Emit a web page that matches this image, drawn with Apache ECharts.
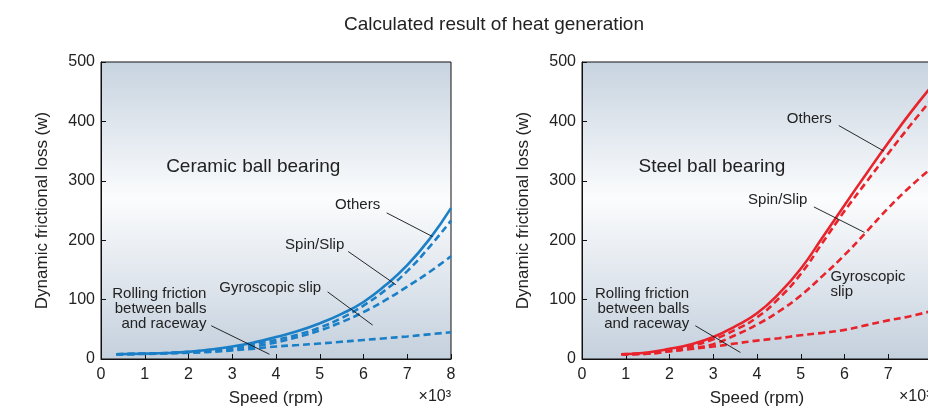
<!DOCTYPE html>
<html>
<head>
<meta charset="utf-8">
<script src="https://cdn.jsdelivr.net/npm/echarts@6/dist/echarts.min.js"></script>
<style>
    html, body { margin: 0; padding: 0; background: #fff; }
    #main { width: 928px; height: 409px; }
</style>
</head>
<body>
<div id="main"></div>
<script>
// speed in x10^3 rpm, loss in W
var ceramicSpeed = [0.35, 1, 1.5, 2, 2.5, 3, 3.5, 4, 4.5, 5, 5.5, 6, 6.5, 7, 7.5, 8];
var ceramicOthers = [8, 9, 10, 12, 16, 21, 28, 37, 47, 60, 76, 96, 124, 158, 201, 254];
var ceramicSpin = [8, 9, 10, 12, 15, 19, 25, 32, 41, 53, 69, 90, 116, 148, 188, 233];
var ceramicGyro = [8, 9, 10, 11, 13, 16, 21, 28, 37, 48, 62, 79, 99, 122, 146, 173];
var ceramicRolling = [8, 8.5, 9.5, 10.5, 12, 14.5, 17.5, 21, 23.5, 26, 29, 32, 35, 38, 41.5, 45];

var steelSpeed = [0.9, 1.5, 2, 2.5, 3, 3.5, 4, 4.5, 5, 5.5, 6, 6.5, 7, 7.5, 8];
var steelOthers = [8, 11, 17, 25, 37, 55, 77, 110, 152, 205, 259, 312, 364, 414, 460];
var steelSpin = [8, 10, 15, 22, 33, 49, 70, 102, 143, 196, 249, 298, 346, 393, 438];
var steelGyro = [8, 9, 13, 18, 25, 40, 58, 80, 107, 140, 175, 214, 254, 290, 322];
var steelRolling = [8, 9, 13, 17, 21, 26, 31, 35, 40, 44, 49, 57, 65, 72, 81];

var speedTicks = [0, 1, 2, 3, 4, 5, 6, 7, 8];
var lossTicks = [0, 100, 200, 300, 400, 500];

var FONT = '"Liberation Sans", Arial, sans-serif';
var TXT = '#222';

function pairs(xs, ys) {
    var out = [];
    for (var i = 0; i < xs.length; i++) {
        out.push([xs[i], ys[i]]);
    }
    return out;
}

function curve(idx, xs, ys, color, dashed) {
    return {
        type: 'line',
        xAxisIndex: idx,
        yAxisIndex: idx,
        data: pairs(xs, ys),
        smooth: true,
        showSymbol: false,
        silent: true,
        clip: false,
        lineStyle: {
            color: color,
            width: 2.6,
            type: dashed ? [7, 4] : 'solid'
        }
    };
}

// leader lines + labels, placed in data coordinates
function notes(idx, leaders, labels) {
    var lines = [];
    for (var i = 0; i < leaders.length; i++) {
        var l = leaders[i];
        lines.push([{coord: [l[0], l[1]]}, {coord: [l[2], l[3]]}]);
    }
    var points = [];
    for (var j = 0; j < labels.length; j++) {
        var t = labels[j];
        points.push({
            coord: [t.x, t.y],
            label: {
                show: true,
                position: 'inside',
                formatter: t.text,
                align: t.align || 'right',
                verticalAlign: 'middle',
                fontSize: t.size || 15,
                lineHeight: 15,
                fontFamily: FONT,
                color: TXT
            }
        });
    }
    return {
        type: 'line',
        xAxisIndex: idx,
        yAxisIndex: idx,
        data: [],
        silent: true,
        markLine: {
            silent: true,
            symbol: 'none',
            animation: false,
            label: {show: false},
            lineStyle: {color: '#111', width: 0.9, type: 'solid'},
            data: lines
        },
        markPoint: {
            silent: true,
            symbol: 'circle',
            symbolSize: 0,
            animation: false,
            data: points
        }
    };
}

function xAxisCfg(idx) {
    return {
        gridIndex: idx,
        type: 'value',
        min: speedTicks[0],
        max: speedTicks[speedTicks.length - 1],
        interval: 1,
        name: 'Speed (rpm)',
        nameLocation: 'middle',
        nameGap: 31,
        nameTextStyle: {fontSize: 17, fontFamily: FONT, color: TXT},
        axisLine: {lineStyle: {color: '#111', width: 1}},
        axisTick: {inside: true, length: 5, lineStyle: {color: '#111'}},
        axisLabel: {fontSize: 16, fontFamily: FONT, color: TXT, margin: 8},
        splitLine: {show: false}
    };
}

function yAxisCfg(idx) {
    return {
        gridIndex: idx,
        type: 'value',
        min: lossTicks[0],
        max: lossTicks[lossTicks.length - 1],
        interval: 100,
        name: 'Dynamic frictional loss (w)',
        nameLocation: 'middle',
        nameGap: 50,
        nameTextStyle: {fontSize: 17, fontFamily: FONT, color: TXT},
        axisLine: {show: true, lineStyle: {color: '#111', width: 1}},
        axisTick: {show: true, inside: true, length: 5, lineStyle: {color: '#111'}},
        axisLabel: {fontSize: 16, fontFamily: FONT, color: TXT, margin: 6},
        splitLine: {show: false}
    };
}

var plotBg = {
    type: 'linear', x: 0, y: 0, x2: 0, y2: 1,
    colorStops: [
        {offset: 0, color: '#c7d3e0'},
        {offset: 0.46, color: '#fbfcfd'},
        {offset: 1, color: '#c4d0dd'}
    ]
};

var blue = '#1a7fc6';
var red = '#e8232b';

var myChart = echarts.init(document.getElementById('main'));

var option = {
    animation: false,
    title: {
        text: 'Calculated result of heat generation',
        left: 489,
        top: 10,
        textAlign: 'center',
        textStyle: {fontSize: 19, fontWeight: 'normal', fontFamily: FONT, color: TXT}
    },
    grid: [
        {left: 101, top: 62, width: 350, height: 297, outerBoundsMode: 'none', show: true, backgroundColor: plotBg, borderColor: '#111', borderWidth: 1},
        {left: 582, top: 62, width: 350, height: 297, outerBoundsMode: 'none', show: true, backgroundColor: plotBg, borderColor: '#111', borderWidth: 1}
    ],
    xAxis: [xAxisCfg(0), xAxisCfg(1)],
    yAxis: [yAxisCfg(0), yAxisCfg(1)],
    graphic: [
        {type: 'text', right: 928 - 451, top: 389, style: {text: '×10³', fontSize: 16, fontFamily: FONT, fill: TXT}},
        {type: 'text', left: 899, top: 389, style: {text: '×10³', fontSize: 16, fontFamily: FONT, fill: TXT}}
    ],
    series: [
        curve(0, ceramicSpeed, ceramicRolling, blue, true),
        curve(0, ceramicSpeed, ceramicGyro, blue, true),
        curve(0, ceramicSpeed, ceramicSpin, blue, true),
        curve(0, ceramicSpeed, ceramicOthers, blue, false),
        curve(1, steelSpeed, steelRolling, red, true),
        curve(1, steelSpeed, steelGyro, red, true),
        curve(1, steelSpeed, steelSpin, red, true),
        curve(1, steelSpeed, steelOthers, red, false),
        notes(0,
            [[6.53, 246, 7.58, 206], [5.65, 181, 6.74, 125], [5.18, 113, 6.21, 57], [2.52, 56, 3.85, 8]],
            [
                {text: 'Ceramic ball bearing', x: 3.48, y: 324, align: 'center', size: 19},
                {text: 'Others', x: 6.38, y: 259},
                {text: 'Spin/Slip', x: 5.56, y: 192},
                {text: 'Gyroscopic slip', x: 5.03, y: 120},
                {text: 'Rolling friction\nbetween balls\nand raceway', x: 2.41, y: 84}
            ]),
        notes(1,
            [[5.87, 393, 6.9, 350], [5.3, 256, 6.46, 213], [2.59, 56, 3.62, 11]],
            [
                {text: 'Steel ball bearing', x: 2.97, y: 324, align: 'center', size: 19},
                {text: 'Others', x: 5.71, y: 404},
                {text: 'Spin/Slip', x: 5.15, y: 268},
                {text: 'Gyroscopic\nslip', x: 5.68, y: 125, align: 'left'},
                {text: 'Rolling friction\nbetween balls\nand raceway', x: 2.45, y: 85}
            ])
    ]
};

myChart.setOption(option, true);
window.onresize = myChart.resize;
</script>
</body>
</html>
